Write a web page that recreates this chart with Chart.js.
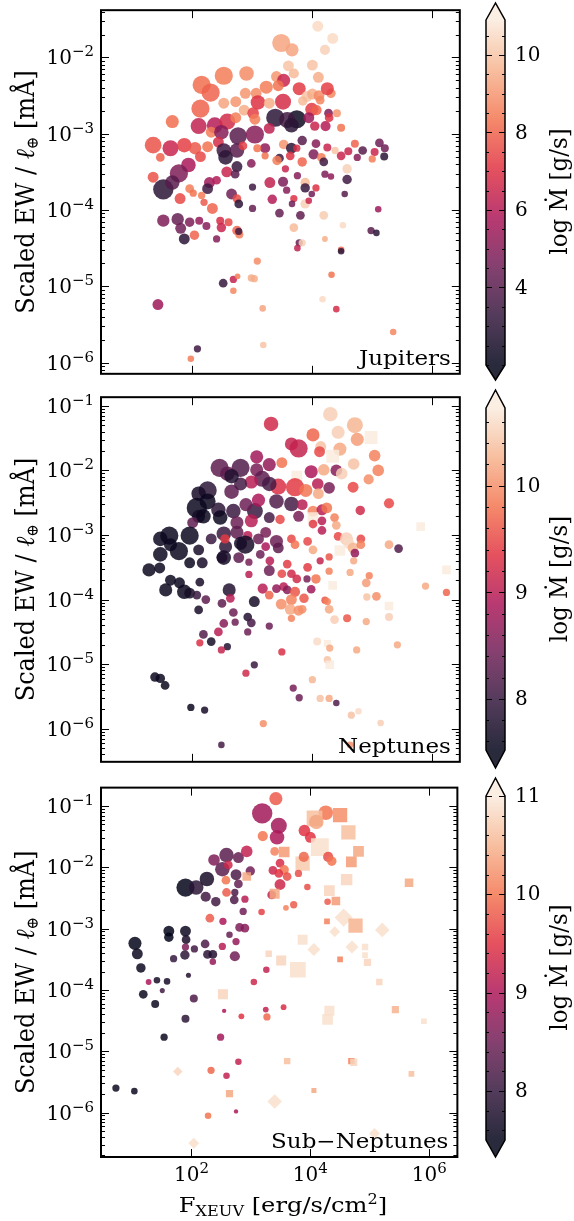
<!DOCTYPE html>
<html>
<head>
<meta charset="utf-8">
<title>Scaled EW vs F_XEUV</title>
<script src="https://cdn.jsdelivr.net/npm/chart.js@4.4.1/dist/chart.umd.min.js"></script>
<style>
  html, body { margin: 0; padding: 0; background: #fff; }
  #fig { position: relative; width: 574px; height: 1221px; overflow: hidden; background: #fff; }
  #fig canvas { position: absolute; }
</style>
</head>
<body>
<div id="fig"></div>
<script>
// -------- data (log10 F_XEUV, log10 scaled EW, log Mdot, marker size) --------
const fluxLim = [0.479, 6.473];
const fluxPow = [2, 4, 6];

// Jupiters
const jupF = [4.10,4.35,3.49,3.67,4.22,3.61,4.01,3.70,4.11,3.41,2.53,
  2.91,2.16,2.31,3.24,3.53,3.44,3.79,2.89,3.07,2.73,
  3.10,2.53,2.14,2.87,3.92,4.01,4.12,4.32,3.85,4.00,
  4.14,3.02,4.28,4.42,1.67,2.11,2.38,2.59,2.73,3.39,
  3.75,3.59,3.66,3.95,3.05,3.29,4.05,4.23,4.29,4.49,
  2.32,2.77,3.05,2.49,1.35,1.64,1.87,2.05,2.26,2.44,
  2.53,2.75,2.85,3.22,3.09,3.53,3.66,3.84,3.75,4.07,
  4.26,4.39,1.47,2.14,2.56,3.22,3.46,3.64,4.03,4.16,
  4.20,4.49,4.61,4.72,4.85,5.05,5.13,5.22,5.21,4.76,
  5.01,3.84,3.42,2.99,3.56,1.94,1.78,1.35,1.52,1.67,
  1.96,2.29,2.41,2.26,2.58,2.75,2.72,
  3.01,3.30,3.52,3.76,3.89,3.89,4.07,4.22,4.32,4.59,
  4.59,4.55,3.58,4.00,1.80,2.02,2.16,2.20,2.34,2.66,
  2.75,2.78,3.01,3.34,3.70,3.67,3.89,3.95,3.46,3.81,
  4.20,5.11,1.52,1.76,1.81,1.96,2.12,2.24,2.47,2.49,
  2.61,2.75,2.79,2.78,1.87,2.04,2.41,3.70,4.22,4.52,
  4.99,5.08,3.79,3.84,3.76,4.49,4.49,3.09,2.52,2.69,
  2.76,2.99,3.04,2.69,4.33,4.18,1.43,3.18,4.41,2.09,
  3.19,1.98,5.36,
  4.26,3.52,4.08,3.29];
const jupEW = [-1.59,-1.75,-1.81,-1.90,-1.90,-2.11,-2.10,-2.21,-2.26,-2.25,-2.24,
  -2.21,-2.36,-2.46,-2.39,-2.30,-2.37,-2.41,-2.47,-2.47,-2.58,
  -2.59,-2.60,-2.67,-2.69,-2.51,-2.48,-2.50,-2.47,-2.57,-2.68,
  -2.56,-2.73,-2.73,-2.73,-2.84,-2.90,-2.89,-2.84,-2.79,-2.79,
  -2.81,-2.82,-2.89,-2.79,-2.81,-2.93,-2.90,-2.90,-2.79,-2.92,
  -2.98,-3.03,-3.01,-2.98,-3.15,-3.19,-3.15,-3.19,-3.17,-3.11,
  -3.22,-3.22,-3.16,-3.19,-3.19,-3.14,-3.19,-3.09,-3.19,-3.13,
  -3.18,-3.22,-3.31,-3.30,-3.31,-3.29,-3.32,-3.29,-3.27,-3.31,
  -3.37,-3.29,-3.23,-3.13,-3.22,-3.24,-3.12,-3.19,-3.30,-3.31,
  -3.33,-3.37,-3.35,-3.39,-3.46,-3.41,-3.52,-3.57,-3.73,-3.64,
  -3.72,-3.64,-3.61,-3.72,-3.50,-3.43,-3.53,
  -3.70,-3.64,-3.63,-3.55,-3.64,-3.71,-3.71,-3.53,-3.56,-3.46,
  -3.60,-3.79,-3.74,-3.79,-3.85,-3.78,-3.81,-3.90,-3.98,-3.79,
  -3.85,-3.92,-3.98,-3.86,-3.85,-3.92,-3.92,-3.88,-4.04,-4.07,
  -4.07,-3.99,-4.14,-4.12,-4.24,-4.16,-4.14,-4.21,-4.14,-4.23,
  -4.16,-4.27,-4.32,-4.28,-4.38,-4.33,-4.38,-4.23,-4.38,-4.20,
  -4.27,-4.30,-4.43,-4.43,-4.50,-4.52,-4.54,-4.67,-4.96,-4.91,
  -4.87,-4.89,-4.90,-5.06,-4.85,-5.17,-5.24,-5.29,-5.30,-5.82,
  -5.77,-5.95,-5.60,
  -2.41,-2.58,-2.69,-2.60];
const jupMd = [10.5,10.5,9.3,9.3,10.3,10.0,10.0,9.8,9.5,9.0,8.5,
  8.8,8.2,8.0,8.5,6.5,8.3,7.2,9.0,8.8,9.0,
  7.0,9.3,8.0,9.5,10.0,9.5,8.8,8.7,9.8,7.2,
  8.7,7.3,4.8,9.0,8.2,6.3,6.0,6.7,8.5,3.0,
  2.3,3.5,3.0,5.5,8.5,6.3,6.5,6.0,7.0,8.3,
  8.5,4.0,5.0,5.0,7.7,6.5,7.3,7.8,8.3,6.8,
  3.5,4.0,7.3,5.2,8.3,9.0,3.0,4.0,6.8,5.0,
  6.5,10.0,8.0,7.5,3.0,8.3,3.5,7.0,4.8,8.5,
  3.5,6.5,6.5,8.0,4.0,6.5,4.5,4.5,3.0,5.0,
  8.5,8.0,8.5,5.0,6.5,5.8,4.8,7.7,3.0,4.0,
  8.5,5.5,6.0,3.5,6.5,3.3,4.0,
  3.5,6.3,4.8,5.0,9.8,3.3,7.0,4.8,5.2,10.3,
  3.5,4.0,5.0,4.5,7.5,8.3,8.5,7.8,8.0,4.5,
  7.5,3.0,4.3,6.0,7.0,4.5,10.3,6.5,4.3,4.2,
  10.2,5.5,4.8,4.3,4.5,4.8,5.3,5.0,6.8,6.5,
  7.5,8.0,8.5,3.5,3.0,8.0,5.0,9.8,9.5,10.5,
  4.0,3.0,4.3,10.3,6.3,8.0,3.0,8.8,3.3,6.3,
  8.5,9.5,9.5,8.7,8.3,10.5,5.5,9.3,6.8,3.5,
  10.0,8.5,8.7,
  7.3,6.8,8.0,9.5];
const jupSz = [15,15,25,18,14,15,15,14,15,15,25,
  20,25,25,18,18,15,18,15,15,15,
  20,15,25,15,15,15,15,13,13,18,
  12,16,12,11,18,22,22,22,15,25,
  25,22,20,15,15,15,13,14,12,11,
  15,24,25,20,23,22,20,17,15,15,
  20,20,12,14,11,13,15,13,10,12,
  11,10,12,15,20,10,12,12,14,12,
  12,12,11,11,12,11,12,11,11,10,
  10,13,13,12,10,20,25,15,28,20,
  12,15,12,15,15,15,12,
  10,15,14,10,13,13,10,10,9,13,
  13,9,10,9,15,10,10,10,15,15,
  12,12,10,13,10,9,13,9,12,12,
  12,9,17,17,15,13,11,11,11,13,
  11,13,11,10,15,13,10,12,8,9,
  10,9,10,10,9,9,9,10,12,10,
  8,10,10,9,9,9,15,9,9,10,
  9,9,9,
  18,22,14,15];
const jupEWLim = [-6.148, -1.380];
const jupEWPow = [-6, -5, -4, -3, -2];
const jupMdLim = [2.0, 10.9];
const jupMdTicks = [4, 6, 8, 10];

// Neptunes
const nepF = [4.31,3.32,4.72,4.44,4.02,4.99,3.66,3.78,4.15,4.47,
  4.76,4.13,4.35,5.05,3.08,3.50,2.46,2.81,2.59,3.29,
  3.08,3.17,3.99,4.20,4.41,4.50,4.70,5.11,4.95,3.75,
  2.99,3.44,3.72,3.90,4.10,4.29,4.11,4.69,2.26,2.11,
  2.66,2.81,3.29,2.08,2.26,2.44,2.69,3.05,2.90,3.11,
  3.41,3.66,3.84,4.02,4.17,4.25,4.81,5.29,2.11,2.01,
  2.47,2.75,2.99,3.29,3.47,3.78,4.02,4.02,4.17,4.17,
  4.38,4.41,1.62,1.47,1.96,1.78,1.47,1.64,2.11,2.32,
  2.53,2.56,2.75,2.81,2.93,3.11,3.23,3.41,3.44,3.23,
  3.66,3.72,3.93,4.02,4.44,4.58,4.62,4.47,4.69,4.82,
  4.82,4.72,5.29,5.45,1.28,1.46,1.96,2.17,2.50,2.78,
  2.95,3.14,3.30,3.29,3.59,3.93,4.14,4.29,4.29,4.64,
  4.70,4.96,2.95,1.64,1.79,2.13,1.56,1.87,1.96,2.08,
  2.23,2.62,2.64,3.50,3.66,3.75,3.92,4.07,3.53,3.41,
  3.18,3.59,3.72,3.99,3.87,3.29,4.35,4.91,
  5.90,6.25,6.25,3.04,2.50,2.69,2.11,3.49,3.66,3.64,
  3.78,4.22,4.29,4.26,4.92,5.08,5.29,5.29,4.59,4.38,
  4.91,3.66,3.84,2.93,2.99,2.72,2.53,2.44,2.19,2.32,
  2.13,2.93,3.29,2.59,2.49,3.50,4.09,4.26,4.30,4.75,
  5.43,3.04,2.90,4.26,4.30,1.38,1.47,1.55,4.01,3.69,
  3.79,4.14,4.29,4.41,1.98,2.21,4.66,4.78,3.19,5.15,
  2.49,4.64,5.82,
  2.66,2.19,2.89,2.55,2.53];
const nepEW = [-1.13,-1.28,-1.30,-1.41,-1.45,-1.49,-1.59,-1.66,-1.63,-1.67,
  -1.52,-1.71,-1.78,-1.77,-1.79,-1.88,-1.96,-1.96,-2.05,-1.91,
  -1.99,-2.13,-2.02,-1.99,-2.00,-2.05,-1.90,-2.00,-2.14,-2.09,
  -2.18,-2.25,-2.26,-2.31,-2.21,-2.27,-2.36,-2.26,-2.31,-2.36,
  -2.33,-2.21,-2.21,-2.58,-2.48,-2.61,-2.63,-2.63,-2.53,-2.46,
  -2.48,-2.52,-2.53,-2.63,-2.61,-2.58,-2.62,-2.51,-2.71,-2.81,
  -2.73,-2.81,-2.78,-2.73,-2.76,-2.71,-2.73,-2.83,-2.78,-2.93,
  -2.73,-2.85,-3.01,-3.06,-3.01,-3.25,-3.30,-3.15,-3.23,-3.06,
  -2.98,-3.18,-2.96,-3.13,-3.01,-3.06,-2.96,-3.10,-3.20,-3.18,
  -3.06,-3.15,-3.10,-3.23,-3.02,-3.06,-3.13,-3.24,-3.20,-3.06,
  -3.15,-3.28,-3.15,-3.21,-3.54,-3.51,-3.43,-3.43,-3.35,-3.35,
  -3.42,-3.30,-3.40,-3.55,-3.45,-3.50,-3.40,-3.34,-3.56,-3.58,
  -3.40,-3.63,-3.61,-3.70,-3.74,-3.73,-3.85,-3.88,-3.90,-3.93,
  -4.00,-3.85,-3.98,-3.60,-3.60,-3.68,-3.68,-3.68,-3.80,-3.83,
  -3.83,-3.85,-3.88,-3.84,-3.98,-3.93,-3.78,-3.74,
  -3.79,-3.54,-3.89,-4.03,-4.06,-4.20,-4.16,-4.07,-4.00,-4.15,
  -4.17,-4.01,-4.15,-4.03,-3.96,-3.95,-4.10,-4.27,-4.29,-4.31,
  -4.34,-4.29,-4.15,-4.27,-4.36,-4.35,-4.37,-4.50,-4.54,-4.65,
  -4.67,-4.50,-4.41,-4.73,-4.78,-4.81,-4.65,-4.68,-4.75,-4.78,
  -4.70,-5.01,-5.14,-4.93,-5.01,-5.20,-5.22,-5.33,-5.24,-5.37,
  -5.52,-5.53,-5.53,-5.60,-5.67,-5.71,-5.79,-5.73,-5.92,-5.91,
  -6.25,-6.25,-2.87,
  -2.09,-2.71,-3.15,-3.06,-3.35];
const nepMd = [10.5,9.2,10.3,10.5,9.7,10.8,9.1,9.1,10.4,10.2,
  10.1,9.5,10.8,9.9,8.8,9.8,8.3,8.2,8.3,8.7,
  8.5,8.3,8.9,10.2,8.6,10.5,10.4,9.9,10.0,10.8,
  9.0,9.3,9.4,9.8,9.0,8.5,10.2,9.5,7.9,7.7,
  8.3,8.1,8.1,7.6,7.6,7.9,8.0,8.0,8.4,8.9,
  8.2,8.1,9.0,9.9,9.0,9.8,9.2,9.5,7.7,8.3,
  7.6,8.4,9.0,8.1,9.5,8.5,10.8,9.4,9.0,9.0,
  9.9,10.2,7.6,7.6,7.6,7.6,7.6,7.6,7.7,8.0,
  8.0,7.9,8.3,7.7,9.0,8.4,8.5,8.4,8.3,8.9,
  9.5,9.8,9.5,10.2,9.5,10.5,10.6,10.8,10.3,9.5,
  9.9,8.7,10.2,8.2,7.6,7.6,7.6,7.7,8.0,8.3,
  8.5,8.4,9.0,8.4,9.4,9.4,9.1,9.6,9.9,10.2,
  10.2,9.9,9.0,7.6,7.6,7.7,7.6,7.6,7.7,8.0,
  8.3,7.8,9.0,9.5,9.2,9.2,8.5,9.8,9.0,8.7,
  9.0,8.6,9.6,8.8,9.6,9.7,10.8,10.1,
  10.2,10.8,9.7,7.7,8.3,8.4,7.7,10.0,9.9,10.2,
  10.0,9.6,10.2,9.9,10.4,10.0,10.8,10.5,9.6,10.5,
  10.2,9.9,10.0,7.8,8.1,8.4,8.6,9.0,8.2,7.7,
  9.3,8.4,8.4,7.8,9.1,9.3,10.6,10.8,10.2,10.2,
  10.2,8.0,9.2,10.4,10.8,7.6,7.6,7.6,10.3,8.5,
  8.4,10.4,10.2,8.2,7.6,7.7,10.4,10.6,10.0,10.5,
  8.1,10.0,10.8,
  7.8,7.6,7.7,9.4,7.7];
const nepSz = [20,20,22,18,18,18,18,25,15,18,
  18,15,18,16,18,15,25,25,20,18,
  18,22,18,16,16,16,16,16,14,15,
  18,22,25,18,16,16,15,15,25,20,
  20,18,20,28,22,20,20,22,18,18,
  20,20,15,15,15,15,13,14,18,15,
  20,18,18,15,13,15,15,12,12,12,
  12,12,25,20,25,25,20,18,15,15,
  20,18,18,18,13,15,15,18,15,12,
  12,12,12,12,12,18,15,15,15,12,
  12,12,12,12,18,15,15,15,15,15,
  10,12,12,15,12,12,10,10,10,10,
  10,10,10,15,15,12,18,20,15,12,
  12,18,12,12,12,12,10,13,12,12,
  14,12,14,12,13,12,12,12,
  10,12,10,15,12,12,12,15,15,15,
  14,10,12,10,10,12,12,11,11,12,
  10,10,12,12,12,10,12,12,12,12,
  10,10,10,10,10,10,11,10,10,10,
  10,10,10,10,12,13,13,12,10,10,
  10,10,10,9,10,10,10,9,10,9,
  9,9,12,
  20,20,25,13,20];
const nepSquare = [5, 12, 29, 66, 97, 146, 149, 164, 185, 192, 210];
const nepEWLim = [-6.512, -0.866];
const nepEWPow = [-6, -5, -4, -3, -2, -1];
const nepMdLim = [7.52, 10.73];
const nepMdTicks = [8, 9, 10];

// Sub-Neptunes
const subF = [3.42,3.19,3.47,3.44,3.20,4.26,4.07,4.10,4.50,4.64,
  3.90,4.00,4.16,4.81,3.40,3.56,3.87,3.89,4.30,4.36,
  4.69,3.49,3.37,3.56,3.47,3.61,3.49,3.80,3.95,3.35,
  3.40,4.61,5.66,4.32,4.29,4.43,3.72,3.59,3.18,4.56,
  4.28,4.76,4.41,5.21,3.87,4.06,4.70,4.92,4.92,4.96,
  4.50,3.30,3.51,3.79,5.16,3.26,3.05,2.53,2.55,2.84,
  3.25,3.27,3.55,4.32,4.29,5.43,5.91,2.49,2.79,3.61,
  4.69,4.73,5.70,4.06,2.33,2.59,2.64,1.77,3.40,2.75,
  2.28,2.04,5.08,0.73,1.04,1.54,1.90,1.39,1.19,1.28,
  1.42,1.59,1.51,2.04,1.95,1.05,1.09,1.15,1.62,1.62,
  1.90,1.91,1.90,1.89,1.70,2.05,2.23,2.27,2.36,2.36,
  2.52,2.73,2.75,2.64,2.53,2.81,2.90,2.87,2.90,2.72,
  2.41,2.24,2.31,2.59,2.73,1.90,2.08,2.26,2.38,2.59,
  2.79,2.93,2.52,2.62,2.75,2.99,2.58,2.79,2.93];
const subEW = [-0.88,-1.12,-1.32,-1.51,-1.49,-1.11,-1.20,-1.26,-1.15,-1.43,
  -1.40,-1.51,-1.67,-1.74,-1.74,-1.75,-1.94,-1.83,-1.83,-1.90,
  -1.91,-1.93,-2.05,-2.04,-2.10,-2.15,-2.28,-2.10,-2.32,-2.45,
  -2.43,-2.20,-2.25,-2.38,-2.56,-2.55,-2.61,-2.66,-2.73,-2.82,
  -2.88,-2.95,-3.05,-3.02,-3.18,-3.34,-3.30,-3.30,-3.43,-3.55,
  -3.50,-3.41,-3.52,-3.67,-3.87,-3.67,-3.87,-4.07,-4.34,-4.43,
  -4.32,-4.44,-4.28,-4.34,-4.48,-4.32,-4.51,-4.77,-5.17,-5.16,
  -5.16,-5.18,-5.37,-5.64,-5.31,-5.40,-5.69,-5.33,-5.82,-5.98,
  -6.05,-6.50,-6.34,-5.60,-5.65,-4.77,-4.47,-4.23,-4.07,-3.87,
  -3.84,-3.86,-4.01,-4.14,-3.76,-3.24,-3.41,-3.64,-3.04,-3.14,
  -3.04,-3.18,-3.30,-3.43,-3.49,-3.33,-3.25,-3.42,-3.42,-3.54,
  -3.29,-3.45,-3.21,-3.10,-2.88,-2.98,-2.99,-2.72,-2.52,-2.53,
  -2.56,-2.48,-2.83,-2.41,-2.41,-2.33,-2.33,-2.19,-1.88,-1.80,
  -1.84,-1.74,-2.03,-1.96,-2.12,-2.06,-2.21,-2.27,-2.15];
const subMd = [9.8,8.9,8.9,9.0,10.0,10.0,10.6,10.4,10.2,10.6,
  9.5,9.5,10.9,10.4,10.1,10.3,10.7,9.9,9.7,10.0,
  10.3,9.4,9.3,10.0,9.5,9.7,9.3,9.7,9.7,9.2,
  10.4,10.8,10.4,10.8,9.8,10.3,9.8,10.1,9.6,10.9,
  10.1,10.5,10.9,10.9,10.9,10.9,10.9,10.9,10.9,10.8,
  10.1,10.8,10.8,10.9,10.8,9.2,9.3,10.8,9.0,9.5,
  9.2,9.9,9.4,10.9,10.9,10.5,10.9,8.9,9.2,10.6,
  10.1,10.8,10.6,10.4,9.9,9.2,10.4,10.8,10.9,9.0,
  10.0,10.9,10.9,7.6,7.6,7.6,7.9,7.6,7.6,9.0,
  7.7,7.7,8.1,8.2,7.8,7.5,7.6,7.6,7.5,7.5,
  7.6,7.7,8.6,7.9,8.0,8.1,8.2,7.9,7.8,8.8,
  9.1,8.5,8.8,8.4,9.0,8.6,8.7,8.5,9.1,8.2,
  8.1,8.1,9.8,9.8,8.2,7.5,7.9,7.7,8.6,8.3,
  8.4,9.2,8.3,9.3,8.2,8.5,10.0,8.4,10.4];
const subSz = [18,28,22,20,14,20,22,20,20,20,
  16,15,25,15,12,15,20,14,14,13,
  15,12,12,13,12,12,15,10,9,12,
  14,16,12,15,9,12,10,8,9,25,
  8,20,15,20,14,18,18,9,8,10,
  8,9,14,22,9,9,9,14,6,8,
  8,10,8,14,15,10,8,10,9,9,
  9,10,8,7,10,9,10,13,20,6,
  9,15,15,10,9,10,11,11,12,8,
  9,9,7,11,7,18,15,13,15,13,
  15,12,10,13,10,10,12,12,12,9,
  10,14,10,9,10,12,12,10,10,12,
  13,14,12,12,10,25,20,20,16,20,
  15,16,20,12,15,13,12,12,12];
const subSquare = [6,8,9,12,13,15,16,20,30,31,32,33,35,40,41,44,47,48,49,50,51,52,53,54,57,63,64,65,66,69,70,71,72,73,76,138];
const subDiamond = [39,42,43,45,46,77,78,81,82];
const subEWLim = [-6.724, -0.70];
const subEWPow = [-6, -5, -4, -3, -2, -1];
const subMdLim = [7.5, 11.0];
const subMdTicks = [8, 9, 10, 11];

// -------- style / layout --------
const FONT = '"DejaVu Serif", "Liberation Serif", serif';
const ALPHA = 0.85;
const SX = 1.15;   // glyphs in the figure are drawn a little wide
const ROCKET = [[3,5,26],[53,25,62],[112,31,87],[173,23,89],[225,51,66],[243,118,81],[246,180,143],[250,235,221]];

const PANELS = [
  { label: 'Jupiters', F: jupF, EW: jupEW, Md: jupMd, Sz: jupSz, sq: [], di: [],
    yLim: jupEWLim, yPow: jupEWPow, cLim: jupMdLim, cTicks: jupMdTicks, cMinor: 0.5,
    box: [3, 380], cbRect: [20, 365] },
  { label: 'Neptunes', F: nepF, EW: nepEW, Md: nepMd, Sz: nepSz, sq: nepSquare, di: [],
    yLim: nepEWLim, yPow: nepEWPow, cLim: nepMdLim, cTicks: nepMdTicks, cMinor: 0.2,
    box: [390, 768], cbRect: [408, 750] },
  { label: 'Sub\u2212Neptunes', F: subF, EW: subEW, Md: subMd, Sz: subSz, sq: subSquare, di: subDiamond,
    yLim: subEWLim, yPow: subEWPow, cLim: subMdLim, cTicks: subMdTicks, cMinor: 0.2,
    box: [778, 1157], cbRect: [796, 1140] }
];

function rocket(t, a) {
  t = Math.max(0, Math.min(1, t));
  const s = t * (ROCKET.length - 1);
  const i = Math.min(Math.floor(s), ROCKET.length - 2), f = s - i;
  const c = ROCKET[i].map((v, k) => Math.round(v + (ROCKET[i + 1][k] - v) * f));
  return `rgba(${c[0]},${c[1]},${c[2]},${a})`;
}

// text made of pieces (sub/superscripts), stretched by sx along screen x
function richText(ctx, segs, cx, cy, rot, sx, align) {
  ctx.save();
  ctx.translate(cx, cy);
  ctx.scale(sx || 1, 1);
  ctx.rotate(rot);
  ctx.textAlign = 'left';
  ctx.textBaseline = 'alphabetic';
  let w = 0;
  segs.forEach(s => {
    ctx.font = (s.it ? 'italic ' : '') + s.sz + 'px ' + FONT;
    s.w = ctx.measureText(s.t).width;
    w += s.w;
  });
  let x = align === 'right' ? -w : -w / 2;
  segs.forEach(s => {
    ctx.font = (s.it ? 'italic ' : '') + s.sz + 'px ' + FONT;
    ctx.fillText(s.t, x, s.dy || 0);
    x += s.w;
  });
  ctx.restore();
}

// "10" with a raised exponent
function powLabel(ctx, e, x, y, align) {
  const ex = String(e).replace('-', '\u2212');
  ctx.font = '20px ' + FONT;
  const wb = ctx.measureText('10').width;
  ctx.font = '15px ' + FONT;
  const we = ctx.measureText(ex).width;
  const x0 = align === 'right' ? x - wb - we : x - (wb + we) / 2;
  ctx.textAlign = 'left';
  ctx.textBaseline = 'alphabetic';
  ctx.font = '20px ' + FONT;
  ctx.fillText('10', x0, y + 7);
  ctx.font = '15px ' + FONT;
  ctx.fillText(ex, x0 + wb, y - 1);
}

const deco = {
  id: 'deco',
  afterDraw(chart, args, o) {
    const { ctx, chartArea: a, scales: { x, y } } = chart;
    ctx.save();
    ctx.strokeStyle = '#000';
    ctx.fillStyle = '#000';
    ctx.lineWidth = 1;
    ctx.beginPath();
    for (let e = Math.floor(o.yLim[0]); e <= Math.ceil(o.yLim[1]); e++) {
      for (let m = 1; m < 10; m++) {
        const v = m * Math.pow(10, e);
        if (v < y.min || v > y.max) continue;
        const py = Math.round(y.getPixelForValue(v)) + 0.5;
        const len = m === 1 ? 8 : 4;
        ctx.moveTo(a.left, py); ctx.lineTo(a.left + len, py);
        ctx.moveTo(a.right, py); ctx.lineTo(a.right - len, py);
      }
    }
    fluxPow.forEach(p => {
      const px = Math.round(x.getPixelForValue(Math.pow(10, p))) + 0.5;
      ctx.moveTo(px, a.top); ctx.lineTo(px, a.top + 8);
      ctx.moveTo(px, a.bottom); ctx.lineTo(px, a.bottom - 8);
    });
    ctx.stroke();
    ctx.lineWidth = 2;
    ctx.strokeRect(a.left, a.top, a.right - a.left, a.bottom - a.top);

    o.yPow.forEach(p => powLabel(ctx, p, a.left - 7, y.getPixelForValue(Math.pow(10, p)), 'right'));
    if (o.xLabels) {
      fluxPow.forEach(p => powLabel(ctx, p, x.getPixelForValue(Math.pow(10, p)), a.bottom + 17, 'center'));
      richText(ctx, [
        { t: 'F', sz: 21 }, { t: 'XEUV', sz: 14, dy: 4 },
        { t: ' [erg/s/cm', sz: 21 }, { t: '2', sz: 14, dy: -8 }, { t: ']', sz: 21 }
      ], 283, a.bottom + 55, 0, SX);
    }
    richText(ctx, [
      { t: 'Scaled EW / ', sz: 24 }, { t: '\u2113', sz: 24, it: true },
      { t: '\u2295', sz: 15, dy: 4 }, { t: ' [m\u00C5]', sz: 24 }
    ], 34, (a.top + a.bottom) / 2, -Math.PI / 2, 1.08);

    richText(ctx, [{ t: o.label, sz: 20 }], a.right - 9, a.bottom - 9, 0, SX, 'right');
    ctx.restore();
  }
};

const cbar = {
  id: 'cbar',
  afterDraw(chart, args, o) {
    const { ctx, chartArea: a, scales: { y } } = chart;
    const cx = (a.left + a.right) / 2;
    ctx.save();
    const g = ctx.createLinearGradient(0, y.getPixelForValue(y.min), 0, y.getPixelForValue(y.max));
    for (let k = 0; k <= 28; k++) g.addColorStop(k / 28, rocket(k / 28, ALPHA));
    ctx.fillStyle = g;
    ctx.fillRect(a.left, a.top, a.right - a.left, a.bottom - a.top);
    ctx.fillStyle = rocket(1, ALPHA);
    ctx.beginPath();
    ctx.moveTo(a.left, a.top); ctx.lineTo(cx, o.tipTop); ctx.lineTo(a.right, a.top);
    ctx.closePath(); ctx.fill();
    ctx.fillStyle = rocket(0, ALPHA);
    ctx.beginPath();
    ctx.moveTo(a.left, a.bottom); ctx.lineTo(cx, o.tipBot); ctx.lineTo(a.right, a.bottom);
    ctx.closePath(); ctx.fill();

    ctx.strokeStyle = '#000';
    ctx.lineWidth = 1;
    ctx.beginPath();
    const n = Math.round((y.max - y.min) / o.minor) + 2;
    const v0 = Math.ceil(y.min / o.minor - 1e-6) * o.minor;
    for (let k = 0; k < n; k++) {
      const v = v0 + k * o.minor;
      if (v > y.max + 1e-6) break;
      const isMajor = o.ticks.some(t => Math.abs(t - v) < 1e-6);
      const len = isMajor ? 6 : 3;
      const py = Math.round(y.getPixelForValue(v)) + 0.5;
      ctx.moveTo(a.left, py); ctx.lineTo(a.left + len, py);
      ctx.moveTo(a.right, py); ctx.lineTo(a.right - len, py);
    }
    ctx.stroke();

    ctx.lineWidth = 1.5;
    ctx.beginPath();
    ctx.moveTo(a.left, a.top); ctx.lineTo(cx, o.tipTop); ctx.lineTo(a.right, a.top);
    ctx.lineTo(a.right, a.bottom); ctx.lineTo(cx, o.tipBot); ctx.lineTo(a.left, a.bottom);
    ctx.closePath();
    ctx.stroke();

    ctx.fillStyle = '#000';
    ctx.font = '20px ' + FONT;
    ctx.textAlign = 'left';
    ctx.textBaseline = 'middle';
    o.ticks.forEach(t => ctx.fillText(String(t), a.right + 10, y.getPixelForValue(t) + 1));
    richText(ctx, [{ t: 'log \u1E40 [g/s]', sz: 23 }], a.right + 62, (o.tipTop + o.tipBot) / 2, -Math.PI / 2, 1.08);
    ctx.restore();
  }
};

const fig = document.getElementById('fig');
function addCanvas(left, top, w, h) {
  const cv = document.createElement('canvas');
  cv.width = w; cv.height = h;
  cv.style.left = left + 'px'; cv.style.top = top + 'px';
  cv.style.width = w + 'px'; cv.style.height = h + 'px';
  fig.appendChild(cv);
  return cv;
}

Chart.defaults.font.family = FONT;

PANELS.forEach((P, i) => {
  const n = Math.min(P.F.length, P.EW.length, P.Md.length, P.Sz.length);
  const pts = [], radii = [], styles = [], colors = [];
  for (let k = 0; k < n; k++) {
    pts.push({ x: Math.pow(10, P.F[k]), y: Math.pow(10, P.EW[k]) });
    const r = P.Sz[k] / 2.75;
    if (P.sq.includes(k)) { styles.push('rect'); radii.push(r / 0.72); }
    else if (P.di.includes(k)) { styles.push('rectRot'); radii.push(r); }
    else { styles.push('circle'); radii.push(r); }
    colors.push(rocket((P.Md[k] - P.cLim[0]) / (P.cLim[1] - P.cLim[0]), ALPHA));
  }

  const top = P.box[0] - 3;
  const span = P.box[1] - P.box[0];
  const h = i === 2 ? 1221 - top : span + 7;
  const cv = addCanvas(0, top, 470, h);
  new Chart(cv, {
    type: 'scatter',
    data: {
      datasets: [{
        data: pts,
        pointRadius: radii,
        pointHoverRadius: radii,
        pointStyle: styles,
        pointBackgroundColor: colors,
        pointBorderWidth: 0,
        clip: 0
      }]
    },
    options: {
      responsive: false,
      animation: false,
      events: [],
      layout: { padding: { left: 101, right: 6, top: 3, bottom: h - 3 - span } },
      plugins: {
        legend: { display: false },
        tooltip: { enabled: false },
        deco: { yLim: P.yLim, yPow: P.yPow, label: P.label, xLabels: i === 2 }
      },
      scales: {
        x: { type: 'logarithmic', display: false, bounds: 'data',
             min: Math.pow(10, fluxLim[0]), max: Math.pow(10, fluxLim[1]) },
        y: { type: 'logarithmic', display: false, bounds: 'data',
             min: Math.pow(10, P.yLim[0]), max: Math.pow(10, P.yLim[1]) }
      }
    },
    plugins: [deco]
  });

  // colorbar
  const ch = span + 6;
  const cb = addCanvas(470, top, 104, ch);
  new Chart(cb, {
    type: 'scatter',
    data: { datasets: [] },
    options: {
      responsive: false,
      animation: false,
      events: [],
      layout: { padding: { left: 16, right: 69, top: P.cbRect[0] - top, bottom: top + ch - P.cbRect[1] } },
      plugins: {
        legend: { display: false },
        tooltip: { enabled: false },
        cbar: { ticks: P.cTicks, minor: P.cMinor, tipTop: 3, tipBot: ch - 3 }
      },
      scales: {
        x: { display: false, min: 0, max: 1 },
        y: { type: 'linear', display: false, bounds: 'data', min: P.cLim[0], max: P.cLim[1] }
      }
    },
    plugins: [cbar]
  });
});
</script>
</body>
</html>
